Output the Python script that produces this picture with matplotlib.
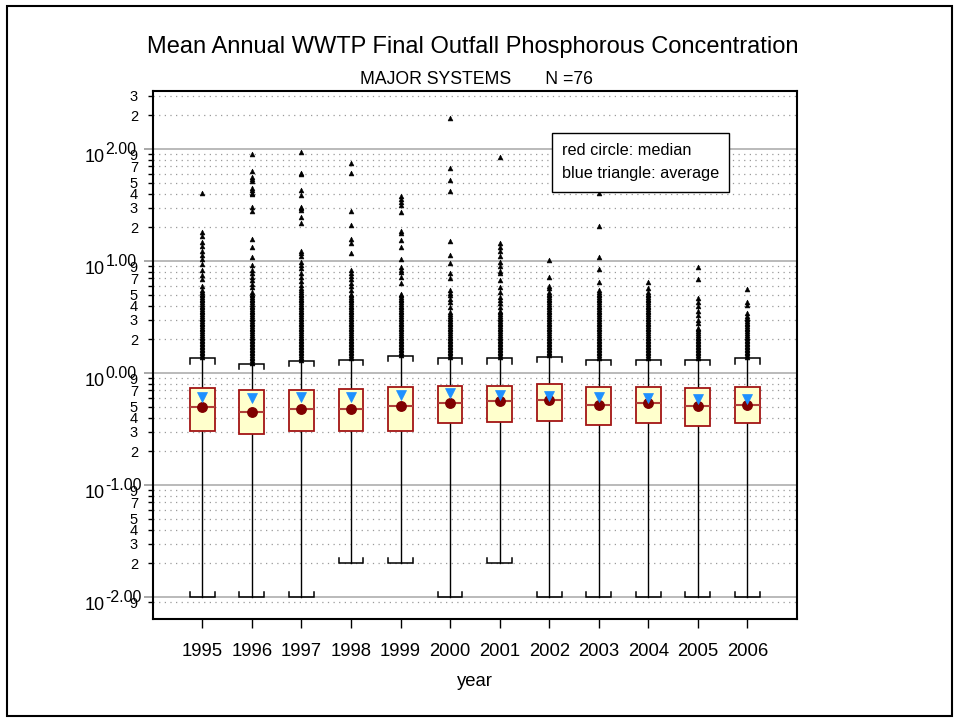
import matplotlib
matplotlib.use("Agg")
import matplotlib.pyplot as plt
from matplotlib.patches import Rectangle
from matplotlib.transforms import ScaledTranslation

plt.rcParams['font.family'] = ['Liberation Sans', 'DejaVu Sans']

# ---------------- data ----------------
years = [1995, 1996, 1997, 1998, 1999, 2000, 2001, 2002, 2003, 2004, 2005, 2006]
q1 = [0.305, 0.284, 0.305, 0.305, 0.305, 0.355, 0.365, 0.375, 0.343, 0.355, 0.336, 0.355]
median = [0.497, 0.449, 0.477, 0.477, 0.507, 0.540, 0.559, 0.578, 0.518, 0.540, 0.507, 0.520]
q3 = [0.730, 0.700, 0.710, 0.715, 0.755, 0.765, 0.765, 0.800, 0.745, 0.745, 0.730, 0.750]
mean = [0.610, 0.600, 0.610, 0.607, 0.636, 0.667, 0.636, 0.627, 0.607, 0.594, 0.586, 0.586]
whisker_low = [0.01, 0.01, 0.01, 0.02, 0.02, 0.01, 0.02, 0.01, 0.01, 0.01, 0.01, 0.01]
whisker_high = [1.35, 1.20, 1.29, 1.31, 1.42, 1.35, 1.35, 1.40, 1.31, 1.31, 1.31, 1.35]

# values in the densely packed (solid-looking) part of the outlier columns
dense_levels = [1.22, 1.26, 1.3, 1.35, 1.4, 1.45, 1.5, 1.55, 1.6, 1.65, 1.7, 1.75, 1.8,
                1.86, 1.92, 1.98, 2.05, 2.12, 2.2, 2.28, 2.36, 2.45, 2.54, 2.63, 2.72,
                2.82, 2.92, 3.02, 3.13, 3.24, 3.36, 3.48, 3.6, 3.73, 3.86, 4.0, 4.15,
                4.3, 4.45, 4.6, 4.77, 4.94, 5.1, 5.3, 5.5, 5.7]

out_1995 = dense_levels[4:45] + [6.0, 6.9, 7.5, 8.3, 9.5, 10.4, 11.3, 12.4, 13.6, 14.9,
                                 16.7, 18.3, 40.2]
out_1996 = dense_levels[0:44] + [5.9, 6.3, 6.8, 7.2, 7.8, 8.4, 9.15, 10.8, 13.4, 15.6,
                                 28.1, 30.2, 39.7, 40.7, 43.0, 45.2, 51.8, 53.6, 56.6,
                                 63.6, 89.7]
out_1997 = dense_levels[2:46] + [6.1, 6.7, 7.2, 7.8, 8.6, 9.2, 9.9, 11.1, 11.7, 12.3,
                                 21.7, 24.6, 28.5, 29.5, 30.5, 38.8, 43.0, 59.4, 60.7, 94.6]
out_1998 = dense_levels[3:43] + [5.5, 6.0, 6.4, 6.9, 7.3, 7.9, 8.4, 11.7, 14.4, 15.7,
                                 21.0, 27.9, 60.7, 74.5]
out_1999 = dense_levels[5:43] + [6.4, 7.2, 8.0, 8.4, 8.8, 10.5, 13.4, 15.4, 17.9, 18.5,
                                 27.6, 31.6, 33.9, 35.6, 38.0]
out_2000 = dense_levels[4:32] + [3.9, 4.3, 4.6, 5.0, 5.2, 5.5, 7.1, 7.9, 9.7, 11.3, 15.2,
                                 42.2, 52.9, 67.3, 188.0]
out_2001 = dense_levels[4:33] + [3.9, 4.2, 4.5, 4.8, 5.3, 5.9, 6.8, 7.8, 8.2, 9.0, 9.9,
                                 11.2, 12.4, 13.4, 14.4, 85.4]
out_2002 = dense_levels[5:43] + [5.3, 5.7, 6.0, 7.15, 10.2]
out_2003 = dense_levels[3:45] + [6.5, 8.5, 10.9, 20.5, 40.7]
out_2004 = dense_levels[3:44] + [5.8, 6.5]
out_2005 = dense_levels[3:23] + [2.8, 3.0, 3.3, 3.6, 4.0, 4.3, 4.7, 6.9, 8.9]
out_2006 = dense_levels[4:30] + [3.46, 4.05, 4.3, 5.6]
outliers = [out_1995, out_1996, out_1997, out_1998, out_1999, out_2000,
            out_2001, out_2002, out_2003, out_2004, out_2005, out_2006]

major_ticks = [0.01, 0.1, 1, 10, 100]
major_base = ['10', '10', '10', '10', '10']
major_exponent = ['-2.00', '-1.00', '0.00', '1.00', '2.00']
minor_ticks = [0.009,
               0.02, 0.03, 0.04, 0.05, 0.06, 0.07, 0.08, 0.09,
               0.2, 0.3, 0.4, 0.5, 0.6, 0.7, 0.8, 0.9,
               2, 3, 4, 5, 6, 7, 8, 9,
               20, 30, 40, 50, 60, 70, 80, 90,
               200, 300]
minor_labels = ['9',
                '2', '3', '4', '5', '', '7', '', '9',
                '2', '3', '4', '5', '', '7', '', '9',
                '2', '3', '4', '5', '', '7', '', '9',
                '2', '3', '4', '5', '', '7', '', '9',
                '2', '3']

title = 'Mean Annual WWTP Final Outfall Phosphorous Concentration'
subtitle = 'MAJOR SYSTEMS       N =76'
xlabel = 'year'
legend_lines = ['red circle: median', 'blue triangle: average']

# ---------------- figure ----------------
W, H = 960, 723
DPI = 100
fig = plt.figure(figsize=(W / DPI, H / DPI), dpi=DPI)
ax_left, ax_right, ax_top, ax_bottom = 152.7, 797, 91, 619
ax = fig.add_axes([ax_left / W, 1 - ax_bottom / H, (ax_right - ax_left) / W,
                   (ax_bottom - ax_top) / H])

ax.set_yscale('log')
ax.set_xlim(1994, 2007)
ax.set_ylim(0.00637, 330)
ax.set_axisbelow(True)

stats = []
for i in range(len(years)):
    stats.append(dict(med=median[i], q1=q1[i], q3=q3[i], whislo=whisker_low[i],
                      whishi=whisker_high[i], mean=mean[i], fliers=outliers[i]))

box_w = 0.5
ax.bxp(stats, positions=years, widths=box_w, patch_artist=True, showmeans=False,
       showcaps=False, showfliers=True,
       boxprops=dict(facecolor='#FFFFCC', edgecolor='#A31515', linewidth=1.3, zorder=3),
       medianprops=dict(color='#B0403A', linewidth=1.5, zorder=4),
       whiskerprops=dict(color='black', linewidth=1.0, zorder=2),
       flierprops=dict(marker='^', markersize=3.5, markerfacecolor='black',
                       markeredgecolor='black', markeredgewidth=0.4, linestyle='none', zorder=2))

# caps with small end ticks pointing toward the box
tick_fac = 1.11
for i, x in enumerate(years):
    hi = whisker_high[i]
    lo = whisker_low[i]
    ax.plot([x - box_w / 2, x - box_w / 2, x + box_w / 2, x + box_w / 2],
            [hi / tick_fac, hi, hi, hi / tick_fac], color='black', lw=1.1, zorder=2,
            solid_joinstyle='miter')
    ax.plot([x - box_w / 2, x - box_w / 2, x + box_w / 2, x + box_w / 2],
            [lo * tick_fac, lo, lo, lo * tick_fac], color='black', lw=1.1, zorder=2,
            solid_joinstyle='miter')

ax.plot(years, median, linestyle='none', marker='o', markersize=6.8,
        markerfacecolor='#800000', markeredgecolor='#800000', zorder=5)
ax.plot(years, mean, linestyle='none', marker='v', markersize=6.5,
        markerfacecolor='#1E90FF', markeredgecolor='#1E90FF', markeredgewidth=0.5, zorder=6)

# axes ticks
ax.set_xticks(years)
ax.set_xticklabels([str(y) for y in years])
ax.set_yticks(major_ticks)
ax.set_yticklabels(['' for _ in major_ticks])
ax.set_yticks(minor_ticks, minor=True)
ax.set_yticklabels(minor_labels, minor=True)
ax.xaxis.set_minor_locator(matplotlib.ticker.NullLocator())

ax.tick_params(axis='y', which='major', direction='out', length=6.5, width=1.4,
               color='#a8a8a8')
ax.tick_params(axis='y', which='minor', direction='out', length=3.6, width=1.0,
               color='black', labelsize=10.5, pad=7)
ax.tick_params(axis='x', which='major', direction='out', length=6.5, width=1.0,
               color='black', labelsize=13.3, pad=11)

# major labels drawn as "10" plus a raised exponent
ytrans = ax.get_yaxis_transform()
base_x = (105 - ax_left) / (ax_right - ax_left)
for v, b, e in zip(major_ticks, major_base, major_exponent):
    ax.text(base_x, v, b, transform=ytrans + ScaledTranslation(0, -12.5 / DPI, fig.dpi_scale_trans),
            fontsize=13, ha='right', va='baseline', clip_on=False)
    ax.text(base_x, v, e, transform=ytrans + ScaledTranslation(0.5 / DPI, -4.5 / DPI, fig.dpi_scale_trans),
            fontsize=11.5, ha='left', va='baseline', clip_on=False)

ax.grid(which='major', axis='y', color='#b4b4b4', linewidth=1.3, linestyle='-')
ax.grid(which='minor', axis='y', color='#9a9a9a', linewidth=0.9, linestyle=(0, (1, 3.5)))
ax.grid(which='both', axis='x', visible=False)

for s in ax.spines.values():
    s.set_linewidth(1.5)
    s.set_color('black')

# legend box
ax.add_patch(Rectangle((0.620, 0.809), 0.2745, 0.112, transform=ax.transAxes,
                       facecolor='white', edgecolor='black', linewidth=1.0, zorder=10))
ax.text(0.635, 0.888, legend_lines[0], transform=ax.transAxes, fontsize=11.7,
        va='center', ha='left', zorder=11)
ax.text(0.635, 0.843, legend_lines[1], transform=ax.transAxes, fontsize=11.7,
        va='center', ha='left', zorder=11)

# titles and labels
fig.text(472.5 / W, 1 - 47 / H, title, fontsize=17, ha='center', va='center')
fig.text(476.5 / W, 1 - 80 / H, subtitle, fontsize=12.7, ha='center', va='center')
fig.text(474.9 / W, 1 - 681 / H, xlabel, fontsize=13.3, ha='center', va='center')

# outer border
fig.add_artist(Rectangle((7 / W, 1 - 716 / H), (952 - 7) / W, (716 - 6) / H,
                         transform=fig.transFigure, fill=False, edgecolor='black',
                         linewidth=1.5))

fig.savefig('out.png', dpi=DPI)
